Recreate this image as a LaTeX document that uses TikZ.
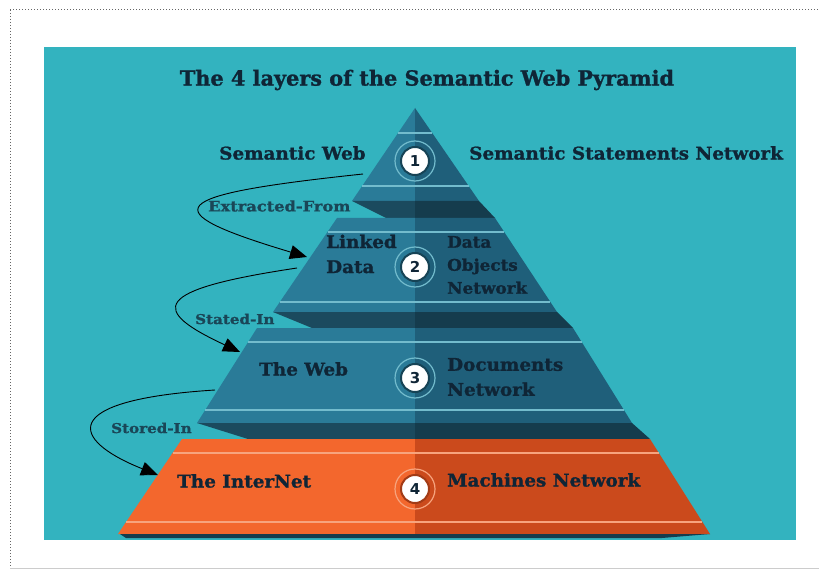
\documentclass[tikz,border=0pt]{standalone}
\usepackage{fontspec}
\setmainfont{DejaVu Serif}[BoldFeatures={FakeBold=1.2}]
\newfontfamily\labfont{DejaVu Serif}[FakeStretch=1.05, BoldFeatures={FakeBold=1.2}]
\newfontfamily\relfont{DejaVu Serif}[FakeStretch=1.12, BoldFeatures={FakeBold=1.2}]
\newfontfamily\numfont{DejaVu Sans}
\usetikzlibrary{arrows.meta}
\definecolor{bgteal}{HTML}{33B3BF}
\definecolor{lblue}{HTML}{2A7B98}
\definecolor{rblue}{HTML}{1F5F7A}
\definecolor{slabL}{HTML}{1B4A5E}
\definecolor{slabR}{HTML}{153C4D}
\definecolor{stripe}{HTML}{73BCCD}
\definecolor{lorange}{HTML}{F3672D}
\definecolor{rorange}{HTML}{CB4A1C}
\definecolor{ostripe}{HTML}{F7A47E}
\definecolor{txt}{HTML}{0F2536}
\definecolor{txtb}{HTML}{1A4657}
\tikzset{
  lbl/.style={font=\labfont\bfseries\fontsize{17.5}{25}\selectfont, text=txt, anchor=west, inner sep=0pt, align=left},
  rellbl/.style={font=\relfont\bfseries\fontsize{13.5}{15}\selectfont, text=txtb, anchor=west, inner sep=0pt},
  numc/.style={circle, fill=white, draw=#1, line width=2pt, minimum size=28pt, inner sep=0pt,
    font=\numfont\bfseries\fontsize{15}{15}\selectfont, text=txt},
  arr/.style={black, line width=0.9pt, -{Triangle[length=17pt,width=14pt]}},
  stripeline/.style={line width=1.4pt}
}
\begin{document}
\begin{tikzpicture}[x=1pt,y=-1pt]
\useasboundingbox (0,0) rectangle (819,572);
\fill[white] (0,0) rectangle (819,572);
\draw[gray!80!black, dotted, line width=1pt] (10,10) -- (819,10);
\draw[gray!80!black, dotted, line width=1pt] (10,10) -- (10,568);
\draw[gray!40, line width=1pt] (10,568) -- (819,568);
\fill[bgteal] (44,47) rectangle (796,540);

% title
\node[font=\bfseries\fontsize{20.8}{24}\selectfont, text=txt, inner sep=0pt] (title) at (427,80) {The 4 layers of the Semantic Web Pyramid};

% ---- layer 1 ----
\fill[lblue] (415,108) -- (415,201) -- (352,201) -- cycle;
\fill[rblue] (415,108) -- (479,201) -- (415,201) -- cycle;
\draw[stripe, stripeline] (398,133) -- (432,133);
\draw[stripe, stripeline] (362,186) -- (469,186);
% slab 1
\fill[slabL] (352,201) -- (415,201) -- (415,218) -- (386,218) -- cycle;
\fill[slabR] (415,201) -- (479,201) -- (495,218) -- (415,218) -- cycle;

% ---- layer 2 ----
\fill[lblue] (337,218) -- (415,218) -- (415,312) -- (273,312) -- cycle;
\fill[rblue] (415,218) -- (495,218) -- (557,312) -- (415,312) -- cycle;
\draw[stripe, stripeline] (327.5,232) -- (504.2,232);
\draw[stripe, stripeline] (279.8,302) -- (550.4,302);
% slab 2
\fill[slabL] (273,312) -- (415,312) -- (415,328) -- (312,328) -- cycle;
\fill[slabR] (415,312) -- (557,312) -- (573,328) -- (415,328) -- cycle;

% ---- layer 3 ----
\fill[lblue] (257,328) -- (415,328) -- (415,423) -- (197,423) -- cycle;
\fill[rblue] (415,328) -- (573,328) -- (632,423) -- (415,423) -- cycle;
\draw[stripe, stripeline] (248.2,342) -- (581.7,342);
\draw[stripe, stripeline] (205.2,410) -- (623.9,410);
% slab 3
\fill[slabL] (197,423) -- (415,423) -- (415,439) -- (248,439) -- cycle;
\fill[slabR] (415,423) -- (632,423) -- (650,439) -- (415,439) -- cycle;

% ---- layer 4 ----
\fill[lorange] (182,439) -- (415,439) -- (415,534) -- (118,534) -- cycle;
\fill[rorange] (415,439) -- (650,439) -- (710,534) -- (415,534) -- cycle;
\draw[ostripe, stripeline] (172.6,453) -- (658.8,453);
\draw[ostripe, stripeline] (126.1,522) -- (702.4,522);
\fill[slabR] (120,534) -- (710,534) -- (662,538) -- (126,538) -- cycle;

% ---- number circles ----
\node[numc=rblue!70!black] (c1) at (415,161) {1};
\node[numc=rblue!70!black] (c2) at (415,267) {2};
\node[numc=rblue!70!black] (c3) at (415,378) {3};
\node[numc=rorange!80!black] (c4) at (415,489) {4};
\draw[stripe, line width=1.2pt] (c1.center) circle (20pt);
\draw[stripe, line width=1.2pt] (c2.center) circle (20pt);
\draw[stripe, line width=1.2pt] (c3.center) circle (20pt);
\draw[ostripe, line width=1.2pt] (c4.center) circle (20pt);

% ---- labels ----
\node[lbl] (l1) at (219,153) {Semantic Web};
\node[lbl] (r1) at (469,153) {Semantic Statements Network};
\node[lbl] (l2) at (326,254) {Linked\\Data};
\node[lbl, font=\labfont\bfseries\fontsize{16}{23}\selectfont] (r2) at (447,265) {Data\\Objects\\Network};
\node[lbl] (l3) at (259,369) {The Web};
\node[lbl] (r3) at (447,377) {Documents\\Network};
\node[lbl] (l4) at (177,481) {The InterNet};
\node[lbl] (r4) at (447,480) {Machines Network};

\node[rellbl, font=\relfont\bfseries\fontsize{14.5}{16}\selectfont] (e1) at (208,206) {Extracted-From};
\node[rellbl] (e2) at (195,319) {Stated-In};
\node[rellbl] (e3) at (111,428) {Stored-In};

% ---- connectors ----
\coordinate (a1s) at (363,174);
\coordinate (a1e) at (307,257);
\coordinate (a2s) at (297,268);
\coordinate (a2e) at (240,352);
\coordinate (a3s) at (215,390);
\coordinate (a3e) at (158,475);
\draw[arr] (a1s) .. controls (165,195) and (150,210) .. (a1e);
\draw[arr] (a2s) .. controls (150,290) and (150,310) .. (a2e);
\draw[arr] (a3s) .. controls (56,400) and (70,440) .. (a3e);
\end{tikzpicture}
\end{document}
